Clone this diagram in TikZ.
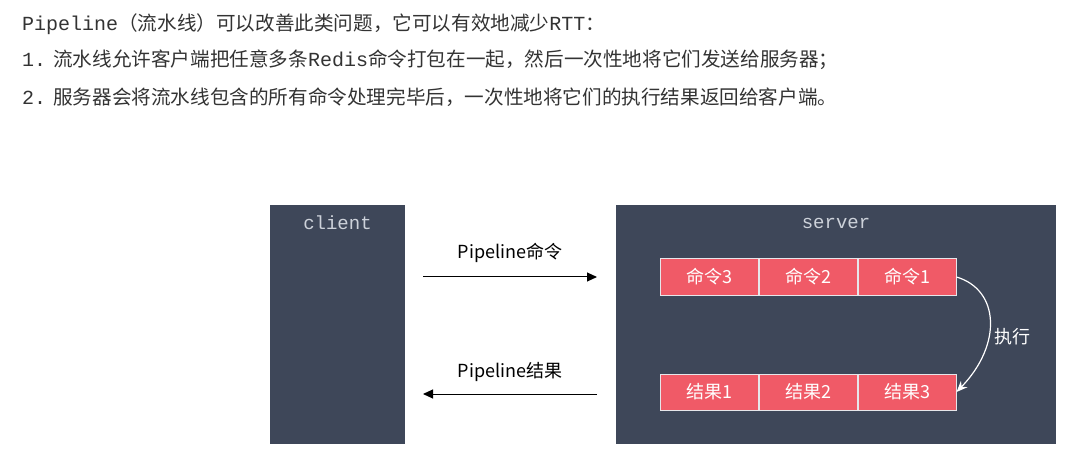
\documentclass[tikz,border=0pt]{standalone}
\usepackage{fontspec}
\usetikzlibrary{arrows.meta,positioning}
\newfontfamily\cjk{Noto Sans CJK SC}
\newfontfamily\mono{Liberation Mono}
\definecolor{ink}{HTML}{333333}
\definecolor{hostFill}{HTML}{3E4759}
\definecolor{hostText}{HTML}{CDD2DA}
\definecolor{cellFill}{HTML}{F05A67}
\definecolor{cellLine}{HTML}{E6E6EA}
\tikzset{
  line/.style={anchor=west, inner sep=0pt, text=ink, font=\fontsize{19.6}{23}\selectfont},
  host/.style={fill=hostFill, draw=none, inner sep=0pt},
  hosttitle/.style={text=hostText, font=\mono\fontsize{19}{23}\selectfont, inner sep=0pt},
  cell/.style={fill=cellFill, draw=cellLine, line width=1pt, minimum width=98pt, minimum height=36pt, inner sep=0pt, text=white, font=\cjk\fontsize{18}{20}\selectfont},
  msg/.style={-{Triangle[length=10pt,width=9pt]}, line width=1pt, draw=black},
  msglabel/.style={font=\cjk\fontsize{18}{22}\selectfont, text=black, inner sep=0pt},
  exec/.style={-{Stealth[length=11pt,width=9pt]}, line width=1.2pt, draw=white},
}
\newcommand\mn[1]{{\mono\fontsize{20}{23}\selectfont #1}}

\begin{document}
\begin{tikzpicture}[x=1pt,y=-1pt]
  \useasboundingbox (0,0) rectangle (1066,457);

  % intro text
  \node[line] (intro) at (22,24) {\mn{Pipeline}\cjk （流水线）可以改善此类问题，它可以有效地减少\mn{RTT}：};
  \node[line] (step1) at (22,60) {\mn{1.}\hspace{7pt}\cjk 流水线允许客户端把任意多条\mn{Redis}命令打包在一起，然后一次性地将它们发送给服务器；};
  \node[line] (step2) at (22,97) {\mn{2.}\hspace{7pt}\cjk 服务器会将流水线包含的所有命令处理完毕后，一次性地将它们的执行结果返回给客户端。};

  % hosts
  \node[host,minimum width=135pt,minimum height=239pt] (client) at (337.5,324.5) {};
  \node[host,minimum width=440pt,minimum height=239pt] (server) at (836,324.5) {};
  \node[hosttitle] (clientname) at (337.5,223) {client};
  \node[hosttitle] (servername) at (836,223) {server};

  % pipeline rows
  \node[cell] (cmd3) at (709,277) {命令3};
  \node[cell,right=0pt of cmd3] (cmd2) {命令2};
  \node[cell,right=0pt of cmd2] (cmd1) {命令1};
  \node[cell] (res1) at (709,392) {结果1};
  \node[cell,right=0pt of res1] (res2) {结果2};
  \node[cell,right=0pt of res2] (res3) {结果3};

  % messages
  \coordinate (sendA) at (423,277);
  \coordinate (sendB) at (597,277);
  \coordinate (backA) at (597,394);
  \coordinate (backB) at (423,394);
  \draw[msg] (sendA) -- (sendB);
  \draw[msg] (backA) -- (backB);
  \node[msglabel] (sendlabel) at (510,253) {Pipeline命令};
  \node[msglabel] (backlabel) at (510,372) {Pipeline结果};

  \draw[exec] (cmd1.east) .. controls (1000,290) and (1002,345) .. (res3.east);
  \node[msglabel,text=white] (execlabel) at (1012,337) {执行};
\end{tikzpicture}
\end{document}
